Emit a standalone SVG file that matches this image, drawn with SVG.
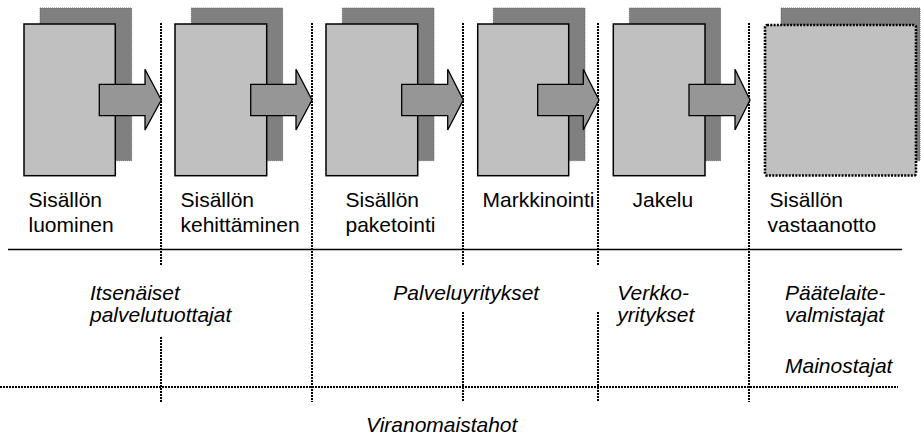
<svg xmlns="http://www.w3.org/2000/svg" width="922" height="436" viewBox="0 0 922 436">
<style>
.shadow{fill:#808080;stroke:#555;stroke-width:0.8;stroke-dasharray:1 1}
.front{fill:#c0c0c0;stroke:#000;stroke-width:1.5}
.frontd{fill:#c0c0c0;stroke:#000;stroke-width:2.6;stroke-dasharray:2 1.3;stroke-linejoin:round}
.arrow{fill:#969696;stroke:#000;stroke-width:1.3;stroke-linejoin:miter}
.vdot{stroke:#000;stroke-width:2;stroke-dasharray:2 1;fill:none}
.hdot{stroke:#000;stroke-width:2;stroke-dasharray:2 1;fill:none}
.solid{stroke:#000;stroke-width:1.5;fill:none}
text{font-family:"Liberation Sans",Arial,sans-serif;font-size:21px;fill:#000}
.it{font-style:italic}
</style>
<g id="connectors">
<line class="solid" x1="8" y1="249.5" x2="902" y2="249.5"/>
<line class="hdot" x1="0" y1="387" x2="898" y2="387"/>
<line class="vdot" x1="161" y1="23" x2="161" y2="266"/>
<line class="vdot" x1="161" y1="337" x2="161" y2="402"/>
<line class="vdot" x1="312" y1="23" x2="312" y2="402"/>
<line class="vdot" x1="463" y1="23" x2="463" y2="265"/>
<line class="vdot" x1="463" y1="312" x2="463" y2="402"/>
<line class="vdot" x1="598" y1="23" x2="598" y2="265"/>
<line class="vdot" x1="598" y1="312" x2="598" y2="402"/>
<line class="vdot" x1="749" y1="23" x2="749" y2="402"/>
</g>
<g id="n1">
<rect class="shadow" x="40" y="8" width="91.7" height="152.7"/>
<rect class="front" x="24" y="24" width="91.3" height="151.7"/>
<polygon class="arrow" points="99.3,84.3 145,84.3 145,69.3 161.3,100 145,130 145,115.7 99.3,115.7"/>
<text x="28.5" y="206.5">Sisällön</text>
<text x="28.5" y="232">luominen</text>
</g>
<g id="n2">
<rect class="shadow" x="191.3" y="8" width="91.4" height="152.7"/>
<rect class="front" x="175" y="24" width="91.7" height="151.7"/>
<polygon class="arrow" points="250.7,84.3 296,84.3 296,69.3 312,100 296,130 296,115.7 250.7,115.7"/>
<text x="180.5" y="206.5">Sisällön</text>
<text x="180.5" y="232">kehittäminen</text>
</g>
<g id="n3">
<rect class="shadow" x="342.3" y="8" width="91.7" height="152.7"/>
<rect class="front" x="326" y="24" width="91.7" height="151.7"/>
<polygon class="arrow" points="401.7,84.3 447.7,84.3 447.7,69.3 463.3,100 447.7,130 447.7,115.7 401.7,115.7"/>
<text x="345.5" y="206.5">Sisällön</text>
<text x="345.5" y="232">paketointi</text>
</g>
<g id="n4">
<rect class="shadow" x="493.3" y="8" width="91.7" height="152.7"/>
<rect class="front" x="477.7" y="24" width="91" height="151.7"/>
<polygon class="arrow" points="537.7,84.3 583.3,84.3 583.3,69.3 599,100 583.3,130 583.3,115.7 537.7,115.7"/>
<text x="482.5" y="206.5">Markkinointi</text>
</g>
<g id="n5">
<rect class="shadow" x="629.3" y="8" width="91.4" height="152.7"/>
<rect class="front" x="613.3" y="24" width="91.7" height="151.7"/>
<polygon class="arrow" points="689,84.3 735,84.3 735,69.3 750,100 735,130 735,115.7 689,115.7"/>
<text x="632.5" y="206.5">Jakelu</text>
</g>
<g id="n6">
<rect class="shadow" x="781" y="8" width="139" height="152.7"/>
<rect class="frontd" x="765" y="25" width="151" height="150.5" rx="2"/>
<text x="769.5" y="206.5">Sisällön</text>
<text x="767.5" y="232">vastaanotto</text>
</g>
<g id="actors">
<text class="it" x="90" y="299.5">Itsenäiset</text>
<text class="it" x="90" y="322">palvelutuottajat</text>
<text class="it" x="393.3" y="299.5">Palveluyritykset</text>
<text class="it" x="617.3" y="299.5">Verkko-</text>
<text class="it" x="617.3" y="322">yritykset</text>
<text class="it" x="785" y="299.5">Päätelaite-</text>
<text class="it" x="785" y="322">valmistajat</text>
<text class="it" x="785" y="372.7">Mainostajat</text>
<text class="it" x="366" y="432">Viranomaistahot</text>
</g>
</svg>
